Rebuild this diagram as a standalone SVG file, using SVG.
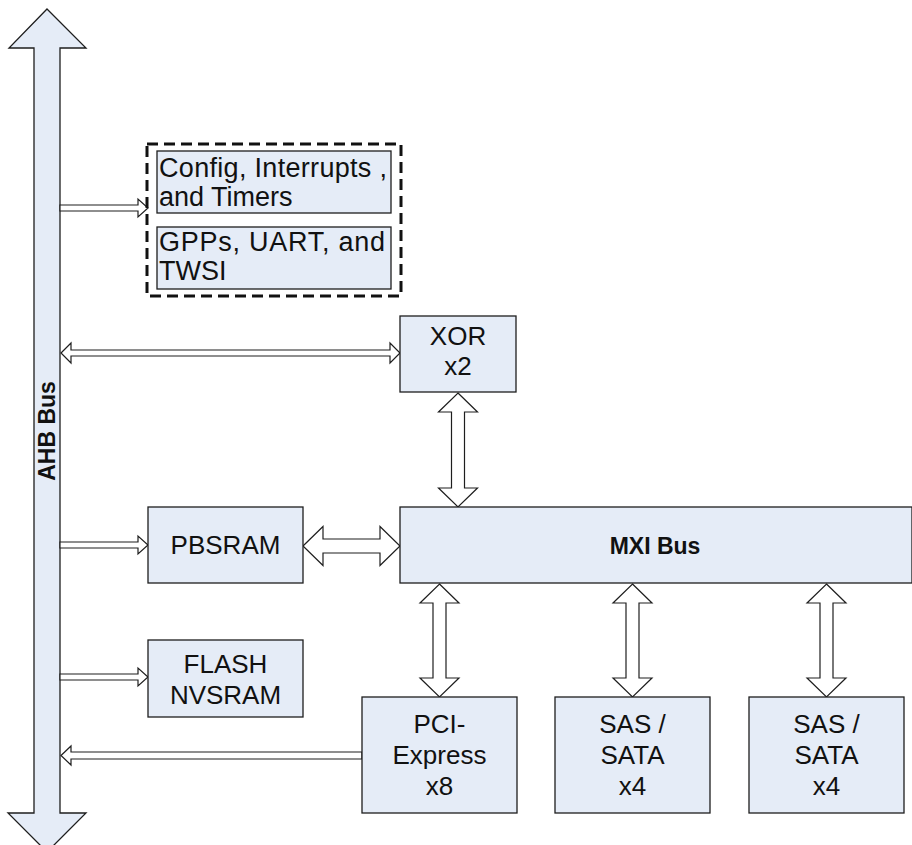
<svg xmlns="http://www.w3.org/2000/svg" width="912" height="845" viewBox="0 0 912 845">
<style>
.box{fill:#E5ECF7;stroke:#1e1e1e;stroke-width:1.3}
.arr{fill:#ffffff;stroke:#1e1e1e;stroke-width:1.2;stroke-linejoin:miter}
.t{font-family:"Liberation Sans",Arial,sans-serif;font-size:26px;fill:#111}
.t2{font-family:"Liberation Sans",Arial,sans-serif;font-size:27px;fill:#111}
.c{text-anchor:middle}
.b{font-family:"Liberation Sans",Arial,sans-serif;font-size:23px;font-weight:bold;fill:#111;text-anchor:middle}
.dash{fill:none;stroke:#111;stroke-width:3;stroke-dasharray:11,6}
</style>
<rect width="912" height="845" fill="#ffffff"/>
<g id="ahb-bus">
<path class="box" d="M47,9 L86,48 H60 V813 H86 L47,852 L8,813 H34 V48 H9 Z"/>
<text class="b" transform="translate(47,431) rotate(-90)" dy="8">AHB Bus</text>
</g>
<g id="connectors">
<path class="arr" d="M60,205 H138 V199 L148,208 L138,217 V211 H60 Z"/>
<path class="arr" d="M61,353 L71,343 V350 H390 V343 L400,353 L390,363 V356 H71 V363 Z"/>
<path class="arr" d="M60,542 H138 V536 L148,545 L138,554 V548 H60 Z"/>
<path class="arr" d="M60,674 H138 V668 L148,677 L138,686 V680 H60 Z"/>
<path class="arr" d="M61,755.5 L71,746 V752 H362 V759 H71 V765 Z"/>
<path class="arr" d="M303,546 L323,526.5 V539 H380 V526.5 L400,546 L380,565.5 V553 H323 V565.5 Z"/>
<path class="arr" d="M458,393 L477.5,412 H464.5 V488 H477.5 L458,507 L438.5,488 H451.5 V412 H438.5 Z"/>
<path class="arr" d="M439.5,584 L459,603 H446 V678 H459 L439.5,697 L420,678 H433 V603 H420 Z"/>
<path class="arr" d="M632.5,584 L652,603 H639 V678 H652 L632.5,697 L613,678 H626 V603 H613 Z"/>
<path class="arr" d="M826.5,584 L846,603 H833 V678 H846 L826.5,697 L807,678 H820 V603 H807 Z"/>
</g>
<g id="periph-group">
<rect class="dash" x="147" y="144" width="254" height="152"/>
</g>
<g id="config">
<rect class="box" x="157" y="151" width="234" height="62"/>
<text class="t2" x="159" y="177" textLength="228" lengthAdjust="spacing">Config, Interrupts ,</text>
<text class="t2" x="159" y="206">and Timers</text>
</g>
<g id="gpps">
<rect class="box" x="157" y="227" width="234" height="62"/>
<text class="t2" x="159" y="251" textLength="226" lengthAdjust="spacing">GPPs, UART, and</text>
<text class="t2" x="159" y="280">TWSI</text>
</g>
<g id="xor">
<rect class="box" x="400" y="316" width="116" height="76"/>
<text class="t c" x="458" y="345">XOR</text>
<text class="t c" x="458" y="375">x2</text>
</g>
<g id="pbsram">
<rect class="box" x="148" y="507" width="155" height="76"/>
<text class="t c" x="225.5" y="554">PBSRAM</text>
</g>
<g id="mxi-bus">
<rect class="box" x="400" y="507" width="512" height="76"/>
<text class="b" x="655" y="554">MXI Bus</text>
</g>
<g id="flash">
<rect class="box" x="148" y="640" width="155" height="77"/>
<text class="t c" x="225.5" y="673">FLASH</text>
<text class="t c" x="225.5" y="704">NVSRAM</text>
</g>
<g id="pci">
<rect class="box" x="362" y="697" width="155" height="116"/>
<text class="t c" x="439.5" y="733">PCI-</text>
<text class="t c" x="439.5" y="764">Express</text>
<text class="t c" x="439.5" y="795">x8</text>
</g>
<g id="sas1">
<rect class="box" x="555" y="697" width="155" height="116"/>
<text class="t c" x="632.5" y="733">SAS /</text>
<text class="t c" x="632.5" y="764">SATA</text>
<text class="t c" x="632.5" y="795">x4</text>
</g>
<g id="sas2">
<rect class="box" x="749" y="697" width="155" height="116"/>
<text class="t c" x="826.5" y="733">SAS /</text>
<text class="t c" x="826.5" y="764">SATA</text>
<text class="t c" x="826.5" y="795">x4</text>
</g>
</svg>
